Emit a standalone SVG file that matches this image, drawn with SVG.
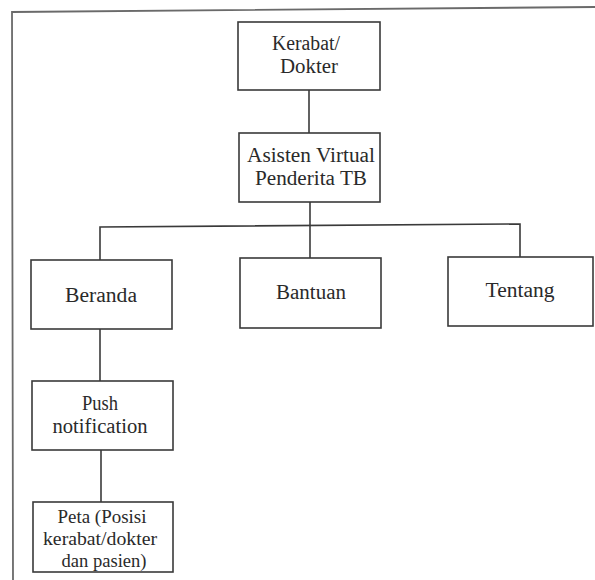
<svg xmlns="http://www.w3.org/2000/svg" width="595" height="580" viewBox="0 0 595 580">
<style>
.box{fill:#ffffff;stroke:#3a3a3a;stroke-width:1.6}
.ln{fill:none;stroke:#3a3a3a;stroke-width:1.6}
.frame{fill:none;stroke:#6a6a6a;stroke-width:1.8}
.t{font-family:'Liberation Serif','DejaVu Serif',serif;font-size:20px;fill:#2a2a2a;text-anchor:middle}
.sm{font-size:18px}
</style>
<rect width="595" height="580" fill="#ffffff"/>
<path class="frame" d="M13,580 L12,12 L595,7"/>
<g id="connectors">
<path class="ln" d="M309,90 V133"/>
<path class="ln" d="M310,202 V227"/>
<path class="ln" d="M100,260 V227 L520,224 V257"/>
<path class="ln" d="M310,227 V258"/>
<path class="ln" d="M100,329 V381"/>
<path class="ln" d="M101,450 V502"/>
</g>
<g id="kerabat">
<rect class="box" x="238" y="22" width="142" height="68"/>
<text class="t" font-family="Liberation Serif, DejaVu Serif, serif" x="306" y="50" textLength="68" lengthAdjust="spacingAndGlyphs">Kerabat/</text>
<text class="t" font-family="Liberation Serif, DejaVu Serif, serif" x="309" y="73" textLength="58" lengthAdjust="spacingAndGlyphs">Dokter</text>
</g>
<g id="asisten">
<rect class="box" x="239" y="133" width="141" height="69"/>
<text class="t" font-family="Liberation Serif, DejaVu Serif, serif" x="311" y="162" textLength="128" lengthAdjust="spacingAndGlyphs">Asisten Virtual</text>
<text class="t" font-family="Liberation Serif, DejaVu Serif, serif" x="311" y="185" textLength="112" lengthAdjust="spacingAndGlyphs">Penderita TB</text>
</g>
<g id="beranda">
<rect class="box" x="31" y="260" width="141" height="69"/>
<text class="t" font-family="Liberation Serif, DejaVu Serif, serif" x="101" y="302" textLength="72" lengthAdjust="spacingAndGlyphs">Beranda</text>
</g>
<g id="bantuan">
<rect class="box" x="240" y="258" width="141" height="70"/>
<text class="t" font-family="Liberation Serif, DejaVu Serif, serif" x="311" y="299" textLength="70" lengthAdjust="spacingAndGlyphs">Bantuan</text>
</g>
<g id="tentang">
<rect class="box" x="448" y="257" width="145" height="69"/>
<text class="t" font-family="Liberation Serif, DejaVu Serif, serif" x="520" y="297" textLength="69" lengthAdjust="spacingAndGlyphs">Tentang</text>
</g>
<g id="push">
<rect class="box" x="32" y="381" width="141" height="69"/>
<text class="t" font-family="Liberation Serif, DejaVu Serif, serif" x="100" y="410" textLength="36" lengthAdjust="spacingAndGlyphs">Push</text>
<text class="t" font-family="Liberation Serif, DejaVu Serif, serif" x="100" y="433" textLength="95" lengthAdjust="spacingAndGlyphs">notification</text>
</g>
<g id="peta">
<rect class="box" x="33" y="502" width="140" height="70"/>
<text class="t sm" font-family="Liberation Serif, DejaVu Serif, serif" x="102" y="523" textLength="89" lengthAdjust="spacingAndGlyphs">Peta (Posisi</text>
<text class="t sm" font-family="Liberation Serif, DejaVu Serif, serif" x="100" y="545" textLength="114" lengthAdjust="spacingAndGlyphs">kerabat/dokter</text>
<text class="t sm" font-family="Liberation Serif, DejaVu Serif, serif" x="104" y="567" textLength="85" lengthAdjust="spacingAndGlyphs">dan pasien)</text>
</g>
</svg>
